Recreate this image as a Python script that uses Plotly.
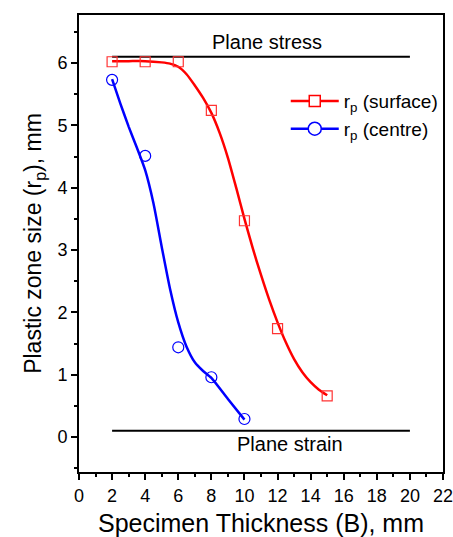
import plotly.graph_objects as go

# Measured data points
thick_surface = [2, 4, 6, 8, 10, 12, 15]
rp_surface = [6.02, 6.02, 6.02, 5.24, 3.47, 1.74, 0.66]
thick_centre = [2, 4, 6, 8, 10]
rp_centre = [5.73, 4.51, 1.44, 0.96, 0.29]

# Fitted curves
fit_surface_x = [2, 3, 4, 5, 5.5, 6, 6.5, 7, 7.5, 8, 8.5, 9, 9.5, 10, 10.5, 11, 11.5,
                 12, 12.5, 13, 13.5, 14, 14.5, 15]
fit_surface_y = [6.03, 6.03, 6.03, 6.01, 5.99, 5.94, 5.82, 5.64, 5.44, 5.2, 4.88, 4.48, 4.0,
                 3.5, 3.03, 2.6, 2.2, 1.84, 1.52, 1.25, 1.04, 0.88, 0.76, 0.67]
fit_centre_x = [2, 2.5, 3, 3.5, 4, 4.5, 5, 5.5, 6, 6.5, 7, 7.5, 8, 9, 10]
fit_centre_y = [5.74, 5.35, 4.98, 4.64, 4.28, 3.75, 3.05, 2.38, 1.84, 1.45, 1.2, 1.06, 0.95,
                0.61, 0.28]

# Reference limits
plane_x = [2, 20]
plane_stress = [6.1, 6.1]
plane_strain = [0.1, 0.1]

RED = "#ff0000"
BLUE = "#0000ff"
FONT = "Arial, Liberation Sans, sans-serif"

fig = go.Figure()
fig.add_trace(go.Scatter(x=plane_x, y=plane_stress, mode="lines",
                         line=dict(color="black", width=2), showlegend=False))
fig.add_trace(go.Scatter(x=plane_x, y=plane_strain, mode="lines",
                         line=dict(color="black", width=2), showlegend=False))
fig.add_trace(go.Scatter(x=fit_surface_x, y=fit_surface_y, mode="lines",
                         line=dict(color=RED, width=2.5, shape="spline", smoothing=0.6),
                         showlegend=False))
fig.add_trace(go.Scatter(x=fit_centre_x, y=fit_centre_y, mode="lines",
                         line=dict(color=BLUE, width=2.5, shape="spline", smoothing=0.6),
                         showlegend=False))
fig.add_trace(go.Scatter(x=thick_surface, y=rp_surface, mode="markers",
                         marker=dict(symbol="square-open", size=10, color="#ff3333",
                                     line=dict(width=1.2)), showlegend=False))
fig.add_trace(go.Scatter(x=thick_centre, y=rp_centre, mode="markers",
                         marker=dict(symbol="circle-open", size=11, color=BLUE,
                                     line=dict(width=1.2)), showlegend=False))
# legend entries
fig.add_trace(go.Scatter(x=[None], y=[None], mode="lines+markers",
                         name="r<sub>p</sub> (surface)",
                         line=dict(color=RED, width=2.5),
                         marker=dict(symbol="square", size=11, color="white",
                                     line=dict(color=RED, width=1.5))))
fig.add_trace(go.Scatter(x=[None], y=[None], mode="lines+markers",
                         name="r<sub>p</sub> (centre)",
                         line=dict(color=BLUE, width=2.5),
                         marker=dict(symbol="circle", size=13, color="white",
                                     line=dict(color=BLUE, width=1.5))))

fig.add_annotation(x=11.35, y=6.34, text="Plane stress", showarrow=False,
                   yanchor="middle", font=dict(size=20, color="black", family=FONT))
fig.add_annotation(x=12.77, y=-0.11, text="Plane strain", showarrow=False,
                   yanchor="middle", font=dict(size=20, color="black", family=FONT))

axis_common = dict(showgrid=False, zeroline=False, showline=True, linecolor="black",
                   linewidth=2, mirror=True, ticks="outside", tickwidth=2, ticklen=6,
                   tickcolor="black", automargin=False, ticklabeloverflow="allow",
                   tickfont=dict(size=18, color="black", family=FONT))

fig.update_xaxes(range=[0, 22], tickmode="array", tickvals=list(range(0, 23, 2)),
                 minor=dict(ticks="outside", ticklen=3, tickwidth=2, tickcolor="black",
                            tickvals=list(range(1, 22, 2))),
                 title=dict(text="Specimen Thickness (B), mm", standoff=12,
                            font=dict(size=25, color="black", family=FONT)),
                 **axis_common)
fig.update_yaxes(range=[-0.56, 6.77], tickmode="array", tickvals=list(range(0, 7)),
                 minor=dict(ticks="outside", ticklen=3, tickwidth=2, tickcolor="black",
                            tickvals=[-0.5, 0.5, 1.5, 2.5, 3.5, 4.5, 5.5, 6.5]),
                 title=dict(text="Plastic zone size (r<sub>p</sub>), mm", standoff=9,
                            font=dict(size=23, color="black", family=FONT)),
                 **axis_common)

fig.update_layout(width=453, height=537, margin=dict(l=79, r=10, t=15, b=65),
                  plot_bgcolor="white", paper_bgcolor="white",
                  legend=dict(x=0.568, y=0.853, xanchor="left", yanchor="top",
                              itemwidth=48, bgcolor="rgba(0,0,0,0)", tracegroupgap=0,
                              font=dict(size=19, color="black", family=FONT)))

fig.write_html("out.html", config={"displayModeBar": False},
               post_script="document.body.style.margin='0';document.body.style.padding='0';")
